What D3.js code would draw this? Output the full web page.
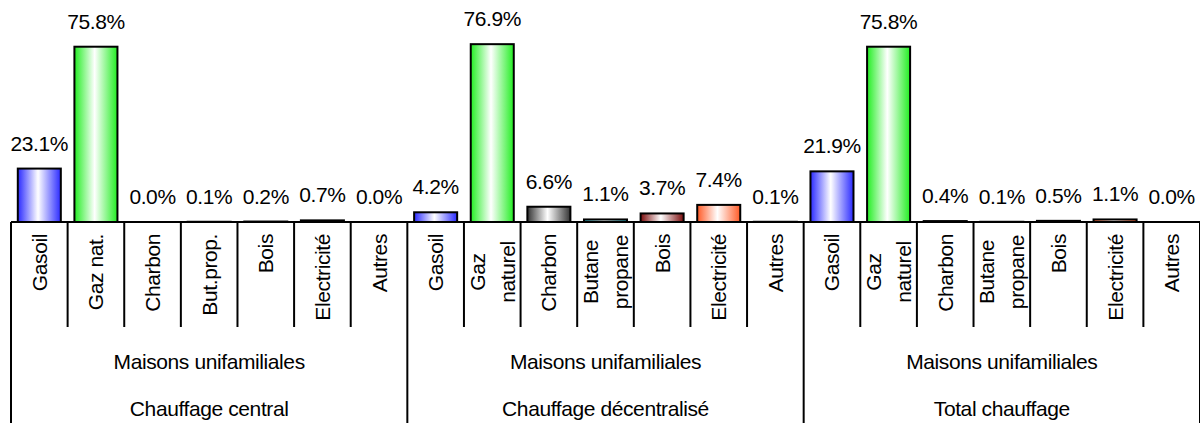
<!DOCTYPE html>
<html>
<head>
<meta charset="utf-8">
<script src="https://cdn.jsdelivr.net/npm/d3@7"></script>
<style>
  body { margin: 0; background: #fff; }
  text { font-family: "Liberation Sans", Arial, sans-serif; fill: #000; letter-spacing: -0.4px; }
</style>
</head>
<body>
<script>
var w = 1200
var h = 423

// data
var groups = ["Chauffage central", "Chauffage décentralisé", "Total chauffage"]
var subLabel = "Maisons unifamiliales"
var keys = ["gasoil", "gaz", "charbon", "butane", "bois", "elec", "autres"]
var labelsCentral = ["Gasoil", "Gaz nat.", "Charbon", "But.prop.", "Bois", "Electricité", "Autres"]
var labelsOther = ["Gasoil", "Gaz|naturel", "Charbon", "Butane|propane", "Bois", "Electricité", "Autres"]
var valuesCentral = [23.1, 75.8, 0.0, 0.1, 0.2, 0.7, 0.0]
var valuesDecentral = [4.2, 76.9, 6.6, 1.1, 3.7, 7.4, 0.1]
var valuesTotal = [21.9, 75.8, 0.4, 0.1, 0.5, 1.1, 0.0]

var colors = {gasoil: "#2a2aff", gaz: "#22ee22", charbon: "#333333", butane: "#1aa7b8",
              bois: "#7a0a0a", elec: "#ff5a26", elecY: "#e8e000", autres: "#888888"}

var allValues = [valuesCentral, valuesDecentral, valuesTotal]
var allLabels = [labelsCentral, labelsOther, labelsOther]

var rows = []
allValues.forEach(function(vals, g) {
  vals.forEach(function(v, i) {
    rows.push({id: g + "-" + i, group: g, key: keys[i], label: allLabels[g][i], value: v})
  })
})

var baseY = 222
var left = 11
var right = 1200
var fs = "21px"

var svg = d3.select("body")
            .append("svg")
            .attr("width", w)
            .attr("height", h)

var x = d3.scaleBand()
          .domain(rows.map(function(d) { return d.id }))
          .range([left, right])
          .paddingInner(0.24)
          .paddingOuter(0.12)

var y = d3.scaleLinear()
          .domain([0, 96])
          .range([baseY, 0])

var step = x.step()

// gradients: colour at the edges, white in the middle
var defs = svg.append("defs")
Object.keys(colors).forEach(function(k) {
  var grad = defs.append("linearGradient")
                 .attr("id", "grad-" + k)
                 .attr("x1", "0%").attr("x2", "100%")
                 .attr("y1", "0%").attr("y2", "0%")
  grad.append("stop").attr("offset", "0%").attr("stop-color", colors[k])
  grad.append("stop").attr("offset", "47%").attr("stop-color", "#ffffff")
  grad.append("stop").attr("offset", "100%").attr("stop-color", colors[k])
})

function colorKey(d) {
  if (d.key == "elec" && d.group == 0) return "elecY"
  return d.key
}

svg.selectAll("rect.bar")
   .data(rows)
   .enter().append("rect")
   .attr("class", "bar")
   .attr("x", function(d) { return x(d.id) })
   .attr("y", function(d) { return y(d.value) })
   .attr("width", x.bandwidth())
   .attr("height", function(d) { return baseY - y(d.value) })
   .attr("fill", function(d) { return "url(#grad-" + colorKey(d) + ")" })
   .attr("stroke", "#000")
   .attr("stroke-width", 2)

svg.selectAll("text.val")
   .data(rows)
   .enter().append("text")
   .attr("class", "val")
   .attr("x", function(d) { return x(d.id) + x.bandwidth() / 2 })
   .attr("y", function(d) { return y(d.value) - 18 })
   .attr("text-anchor", "middle")
   .attr("font-size", fs)
   .text(function(d) { return d3.format(".1f")(d.value) + "%" })

// axis line and category separators
svg.append("line")
   .attr("x1", left).attr("x2", right)
   .attr("y1", baseY).attr("y2", baseY)
   .attr("stroke", "#000")
   .attr("stroke-width", 2)

var bounds = d3.range(rows.length + 1).map(function(i) { return left + i * step })

svg.selectAll("line.sep")
   .data(bounds)
   .enter().append("line")
   .attr("class", "sep")
   .attr("x1", function(d) { return d }).attr("x2", function(d) { return d })
   .attr("y1", baseY)
   .attr("y2", function(d, i) { return i % keys.length == 0 ? h : 327 })
   .attr("stroke", "#000")
   .attr("stroke-width", 2)

// rotated category labels
var cats = svg.selectAll("g.cat")
              .data(rows)
              .enter().append("g")
              .attr("class", "cat")

cats.each(function(d) {
  var cx = x(d.id) + x.bandwidth() / 2
  var parts = d.label.split("|")
  var g = d3.select(this)
  if (parts.length == 1) {
    g.append("text")
     .attr("transform", "translate(" + cx + "," + 234 + ") rotate(-90)")
     .attr("text-anchor", "end")
     .attr("dominant-baseline", "central")
     .attr("font-size", fs)
     .text(parts[0])
  } else {
    parts.forEach(function(p, j) {
      g.append("text")
       .attr("transform", "translate(" + (cx + (j == 0 ? -15 : 15)) + "," + 272 + ") rotate(-90)")
       .attr("text-anchor", "middle")
       .attr("dominant-baseline", "central")
       .attr("font-size", fs)
       .text(p)
    })
  }
})

// group labels
var groupW = step * keys.length

svg.selectAll("text.sub")
   .data(groups)
   .enter().append("text")
   .attr("class", "sub")
   .attr("x", function(d, i) { return left + groupW * i + groupW / 2 })
   .attr("y", 369)
   .attr("text-anchor", "middle")
   .attr("font-size", fs)
   .text(subLabel)

svg.selectAll("text.grp")
   .data(groups)
   .enter().append("text")
   .attr("class", "grp")
   .attr("x", function(d, i) { return left + groupW * i + groupW / 2 })
   .attr("y", 416)
   .attr("text-anchor", "middle")
   .attr("font-size", fs)
   .text(function(d) { return d })
</script>
</body>
</html>
